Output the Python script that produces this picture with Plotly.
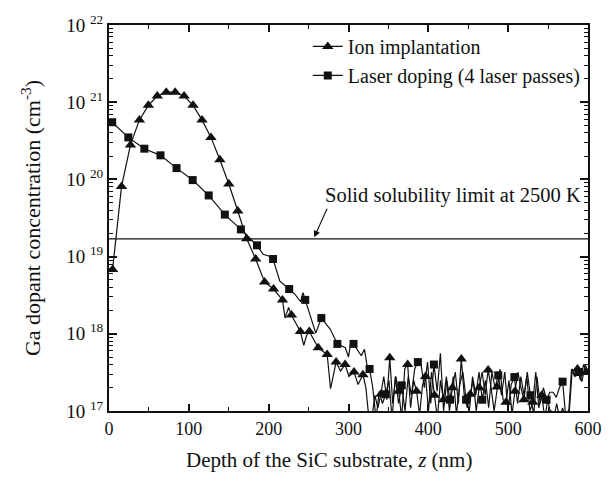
import plotly.graph_objects as go

# ---------------- data ----------------
ion_depth = [
    4.5, 15.7, 26.9, 38.1, 49.3, 60.5, 71.7, 82.9, 94.1, 105.3, 116.5, 127.7,
    138.9, 150.1, 161.3, 172.5, 183.7, 194.9, 206.1, 217.3, 220.5, 225.0, 228.5,
    239.7, 244.0, 247.5, 250.9, 262.1, 273.3, 277.5, 284.5, 290.0, 295.7, 300.5,
    306.9, 312.0, 318.1, 321.8, 325.6, 329.3, 333.0, 336.8, 340.5, 344.2, 348.0,
    351.7, 355.4, 359.2, 362.9, 366.6, 370.4, 374.1, 377.8, 381.6, 385.3, 389.0,
    392.8, 396.5, 400.2, 404.0, 407.7, 411.4, 415.2, 418.9, 422.6, 426.4, 430.1,
    433.8, 437.6, 441.3, 445.0, 448.8, 452.5, 456.2, 460.0, 463.7, 467.4, 471.2,
    474.9, 478.6, 482.4, 486.1, 489.8, 493.6, 497.3, 501.0, 504.8, 508.5, 512.2,
    516.0, 519.7, 523.4, 527.2, 530.9, 534.6, 538.4, 542.1, 545.8, 549.6, 553.3,
    557.0, 560.8, 564.5, 568.2, 572.0, 575.7, 579.4, 583.2, 586.9, 590.6, 594.4,
    598.1,
]
ion_conc = [
    6.8e18, 8.1e19, 2.8e20, 5.9e20, 9.1e20, 1.2e21, 1.35e21, 1.35e21, 1.2e21,
    9.1e20, 5.9e20, 3.5e20, 1.8e20, 8.7e19, 3.9e19, 1.7e19, 9.3e18, 4.7e18,
    3.8e18, 2.75e18, 1.6e18, 2.2e18, 1.75e18, 1.07e18, 7.1e17, 9.5e17, 1.07e18,
    6.6e17, 5.4e17, 1.95e17, 4.3e17, 3.3e17, 4.0e17, 2.8e17, 3.2e17, 2.2e17,
    2.95e17, 2.0e17, 8.0e16, 8.0e16, 1.6e17, 1.1e17, 1.65e17, 2.8e17, 1.4e17,
    4.9e17, 1.25e17, 2.8e17, 1.8e17, 8.0e16, 3.5e17, 4.0e17, 1.1e17, 2.5e17,
    1.8e17, 9.0e16, 2.2e17, 2.8e17, 1.0e17, 3.2e17, 1.6e17, 8.0e16, 2.5e17,
    1.4e17, 2.8e17, 1.0e17, 2.0e17, 3.2e17, 1.25e17, 4.7e17, 1.6e17, 1.1e17,
    1.65e17, 2.5e17, 1.0e17, 2.0e17, 3.2e17, 1.6e17, 3.4e17, 2.0e17, 1.0e17,
    2.05e17, 3.5e17, 1.4e17, 1.3e17, 2.5e17, 9.0e16, 1.8e17, 3.2e17, 2.0e17,
    1.4e17, 2.8e17, 1.0e17, 1.3e17, 3.2e17, 1.1e17, 1.6e17, 8.0e16, 1.4e17,
    9.0e16, 8.0e16, 1.25e17, 8.0e16, 1.1e17, 8.0e16, 9.0e16, 3.5e17, 2.8e17,
    3.5e17, 2.5e17, 4.0e17, 3.2e17,
]

laser_depth = [
    4.0, 24.2, 44.3, 64.5, 84.6, 104.8, 124.9, 145.1, 165.2, 185.4, 193.0, 200.0,
    205.5, 214.0, 225.7, 233.5, 240.0, 243.0, 245.8, 254.0, 259.0, 266.0, 277.0,
    286.1, 296.0, 300.0, 303.0, 306.3, 316.0, 320.0, 323.0, 326.4, 330.4, 334.5,
    338.5, 342.5, 346.6, 350.6, 354.6, 358.7, 362.7, 366.7, 370.8, 374.8, 378.8,
    382.9, 386.9, 390.9, 395.0, 399.0, 403.0, 407.0, 411.1, 415.1, 419.1, 423.1,
    427.2, 431.2, 435.2, 439.3, 443.3, 447.3, 451.4, 455.4, 459.4, 463.5, 467.5,
    471.5, 475.6, 479.6, 483.6, 487.6, 491.7, 495.7, 499.7, 503.8, 507.8, 511.8,
    515.9, 519.9, 523.9, 527.9, 532.0, 536.0, 540.0, 544.1, 548.1, 552.1, 556.2,
    560.2, 564.2, 568.2, 572.3, 576.3, 580.3, 584.4, 588.4, 592.4, 596.5, 600.0,
]
laser_conc = [
    5.5e20, 3.5e20, 2.5e20, 2.05e20, 1.4e20, 9.8e19, 6.2e19, 3.5e19, 2.25e19,
    1.4e19, 1.07e19, 1.02e19, 9.3e18, 4.8e18, 3.8e18, 3.2e18, 2.6e18, 3.4e18,
    2.75e18, 1.55e18, 1.02e18, 1.6e18, 1.15e18, 7.4e17, 6.6e17, 5.0e17, 8.0e17,
    7.4e17, 5.2e17, 6.3e17, 4.0e17, 3.5e17, 2.0e17, 8.0e16, 1.8e17, 1.25e17,
    1.65e17, 2.5e17, 8.0e16, 2.8e17, 1.25e17, 2.15e17, 1.0e17, 2.8e17, 1.6e17,
    3.5e17, 4.3e17, 4.0e17, 2.0e17, 4.3e17, 1.25e17, 4.0e17, 1.8e17, 5.6e17,
    1.0e17, 2.5e17, 1.4e17, 2.8e17, 9.0e16, 2.2e17, 3.2e17, 1.4e17, 1.0e17,
    2.8e17, 1.6e17, 3.2e17, 1.4e17, 2.5e17, 1.1e17, 3.2e17, 2.0e17, 2.9e17,
    1.6e17, 3.2e17, 1.0e17, 2.2e17, 2.75e17, 1.25e17, 2.8e17, 1.6e17, 3.2e17,
    1.6e17, 9.0e16, 2.8e17, 1.25e17, 2.0e17, 1.4e17, 1.75e17, 1.75e17, 1.5e17,
    2.0e17, 2.4e17, 8.0e16, 9.0e16, 3.5e17, 2.8e17, 3.2e17, 2.4e17, 4.0e17,
    3.2e17,
]

solubility_limit = 1.7e19
depth_range = [0, 600]

series_names = ["Ion implantation", "Laser doping (4 laser passes)"]
annotation_text = "Solid solubility limit at 2500 K"
x_title = "Depth of the SiC substrate, <i>z</i> (nm)"
y_title = "Ga dopant concentration (cm<sup>-3</sup>)"
x_tick_values = [0, 100, 200, 300, 400, 500, 600]
y_tick_exponents = [17, 18, 19, 20, 21, 22]

# marker sampling of each curve (the SIMS markers are drawn on a regular depth grid)
ION_MARK_START, ION_MARK_STEP = 4.5, 11.2
LASER_MARK_START, LASER_MARK_STEP = 4.0, 20.15


def marker_subset(xs, ys, start, step):
    mx, my = [], []
    for x, y in zip(xs, ys):
        k = (x - start) / step
        if abs(k - round(k)) < 0.01:
            mx.append(x)
            my.append(y)
    return mx, my


FONT = "Liberation Serif, Times New Roman, serif"
BLACK = "#111111"

fig = go.Figure()

styles = [
    (ion_depth, ion_conc, ION_MARK_START, ION_MARK_STEP, "triangle-up", 10),
    (laser_depth, laser_conc, LASER_MARK_START, LASER_MARK_STEP, "square", 8),
]
for name, (xs, ys, s0, st, sym, size) in zip(series_names, styles):
    fig.add_trace(go.Scatter(x=xs, y=ys, mode="lines", line=dict(color=BLACK, width=1.2),
                             showlegend=False, hoverinfo="skip"))
    mx, my = marker_subset(xs, ys, s0, st)
    fig.add_trace(go.Scatter(x=mx, y=my, mode="markers",
                             marker=dict(symbol=sym, size=size, color=BLACK),
                             showlegend=False))
    # legend entry
    fig.add_trace(go.Scatter(x=[None], y=[None], mode="lines+markers", name=name,
                             line=dict(color=BLACK, width=1.2),
                             marker=dict(symbol=sym, size=size, color=BLACK)))

# solubility limit line
fig.add_trace(go.Scatter(x=depth_range, y=[solubility_limit, solubility_limit], mode="lines",
                         line=dict(color=BLACK, width=1.2), showlegend=False, hoverinfo="skip"))

minor_vals = [float(m) * 10.0 ** e for e in y_tick_exponents[:-1] for m in range(2, 10)]

fig.update_layout(
    width=614, height=477,
    margin=dict(l=109, r=23, t=21, b=66),
    paper_bgcolor="white", plot_bgcolor="white",
    font=dict(family=FONT, color=BLACK, size=18),
    showlegend=True,
    legend=dict(x=0.415, y=0.995, xanchor="left", yanchor="top",
                bgcolor="rgba(0,0,0,0)", font=dict(family=FONT, size=20, color=BLACK),
                tracegroupgap=0),
    xaxis=dict(
        range=depth_range, tickvals=x_tick_values, ticks="inside", ticklen=7, tickwidth=1.5,
        tickcolor=BLACK, showline=True, linewidth=2, linecolor=BLACK, mirror="ticks",
        showgrid=False, zeroline=False,
        minor=dict(dtick=50, ticks="inside", ticklen=4, tickwidth=1.2, tickcolor=BLACK, showgrid=False),
        tickfont=dict(family=FONT, size=18, color=BLACK),
    ),
    yaxis=dict(
        type="log", range=[y_tick_exponents[0], y_tick_exponents[-1]],
        tickvals=[10.0 ** e for e in y_tick_exponents],
        ticktext=["10 <sup>%d</sup>" % e for e in y_tick_exponents],
        ticks="inside", ticklen=8, tickwidth=1.5, tickcolor=BLACK,
        showline=True, linewidth=2, linecolor=BLACK, mirror="ticks",
        showgrid=False, zeroline=False,
        minor=dict(tickmode="array", tickvals=minor_vals, ticks="inside", ticklen=4, tickwidth=1.2,
                   tickcolor=BLACK, showgrid=False),
        tickfont=dict(family=FONT, size=19, color=BLACK),
        title=dict(text=y_title, font=dict(family=FONT, size=22, color=BLACK), standoff=19),
    ),
)

# x-axis title (slightly left of the axis centre, as in the reference)
fig.add_annotation(x=0.46, y=-0.128, xref="paper", yref="paper", xanchor="center", yanchor="middle",
                   text=x_title, showarrow=False, font=dict(family=FONT, size=21, color=BLACK))

# annotation text and its arrow
fig.add_annotation(x=431, y=19.79, xref="x", yref="y", text=annotation_text, showarrow=False,
                   font=dict(family=FONT, size=20.5, color=BLACK))
fig.add_annotation(x=257, y=19.25, xref="x", yref="y", ax=274, ay=19.64, axref="x", ayref="y",
                   text="", showarrow=True, arrowhead=2, arrowsize=1.2, arrowwidth=1.1,
                   arrowcolor=BLACK)

fig.write_html("out.html")
